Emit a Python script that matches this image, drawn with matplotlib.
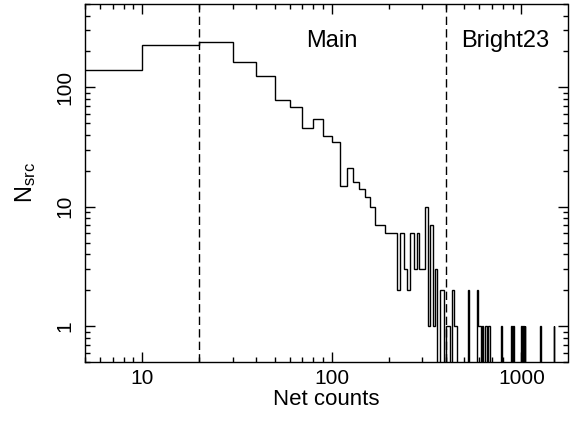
#!/usr/bin/env python3

import matplotlib
matplotlib.use("Agg")
import matplotlib.pyplot as plt
import numpy as np
from matplotlib.ticker import LogLocator, FuncFormatter, NullFormatter

plt.rcParams["font.family"] = ["Liberation Sans", "DejaVu Sans"]

# =========================
# Hardcoded data
# =========================

BIN_WIDTH = 10  # net counts per bin

# counts for bins 0-10, 10-20, ... up to 450-460
main_counts = [
    141, 225, 239, 162, 125, 78, 68, 46, 54, 39,
    35, 15, 21, 16, 14, 12, 10, 7, 7, 6,
    6, 6, 2, 6, 3, 2, 6, 3, 6, 3,
    3, 10, 1, 7, 1, 3, 0, 2, 2, 0,
    1, 1, 0, 2, 1, 1,
]

# sparse bright tail: lower bin edge -> count
tail_lo = [520, 580, 590, 600, 620, 640, 650, 670, 780, 880, 900, 1000, 1020, 1040, 1260, 1480]
tail_n = [2, 2, 1, 1, 1, 1, 1, 1, 1, 1, 1, 1, 1, 1, 1, 1]

x_lines = [20, 400]
region_labels = ["Main", "Bright23"]
region_x = [100, 820]
region_y = 245

# =========================
# Plot
# =========================

edges = np.arange(0, 1760, BIN_WIDTH)
counts = np.zeros(len(edges) - 1)
counts[:len(main_counts)] = main_counts
for lo, n in zip(tail_lo, tail_n):
    counts[lo // BIN_WIDTH] = n

fig = plt.figure(figsize=(5.77, 4.21), dpi=100)
ax = fig.add_axes([85 / 577, 1 - 362 / 421, 482.5 / 577, 358 / 421])

ax.set_xscale("log")
ax.set_yscale("log")
ax.stairs(counts, edges, color="black", lw=1.0, baseline=None)

for xv in x_lines:
    ax.axvline(xv, color="black", lw=1.0, ls=(0, (6, 3)))

for lab, xv in zip(region_labels, region_x):
    ax.text(xv, region_y, lab, ha="center", va="center", fontsize=17)

ax.set_xlim(5, 1750)
ax.set_ylim(0.5, 500)

fmt = FuncFormatter(lambda v, p: f"{v:g}")
for axis in (ax.xaxis, ax.yaxis):
    axis.set_major_locator(LogLocator(base=10))
    axis.set_minor_locator(LogLocator(base=10, subs=np.arange(2, 10)))
    axis.set_major_formatter(fmt)
    axis.set_minor_formatter(NullFormatter())

ax.tick_params(which="both", direction="in", top=True, right=True, labelsize=15, width=1.0)
ax.tick_params(which="major", length=7.2)
ax.tick_params(which="minor", length=3.6)
ax.tick_params(axis="x", pad=5)
ax.tick_params(axis="y", pad=8)
for t in ax.get_yticklabels():
    t.set_rotation(90)
    t.set_va("center")

for s in ax.spines.values():
    s.set_linewidth(1.0)

ax.set_xlabel("Net counts", fontsize=16, labelpad=1)
ax.set_ylabel(r"$\mathregular{N_{src}}$", fontsize=17, labelpad=12)

plt.savefig("out.png", dpi=100)
plt.close(fig)
